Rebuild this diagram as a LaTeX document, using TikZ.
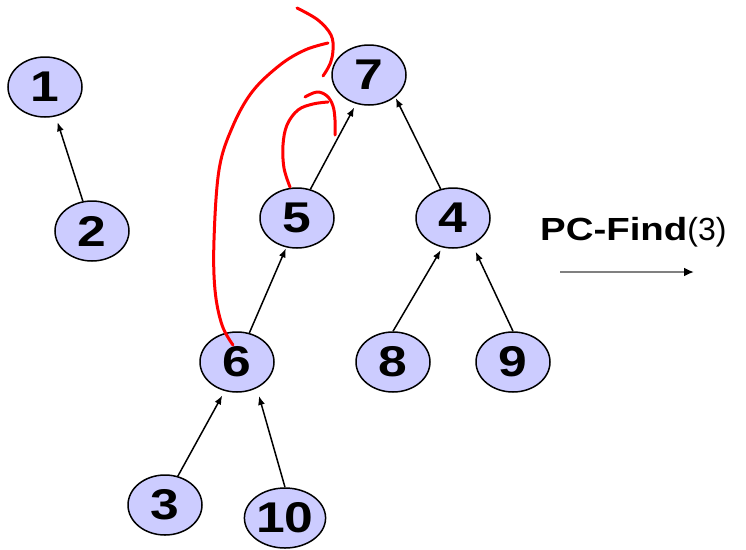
\documentclass[tikz,border=0pt]{standalone}
\usepackage{fontspec}
\usetikzlibrary{shapes.geometric,arrows.meta}
\newfontfamily\labelfont[FakeStretch=1.2]{Liberation Sans}
\newfontfamily\plainfont{Liberation Sans}
\definecolor{vertexfill}{RGB}{204,204,255}
\begin{document}
\begin{tikzpicture}[x=1pt,y=-1pt]
	\tikzset{
		vertex/.style={ellipse,draw=black,line width=1.5pt,fill=vertexfill,
			minimum width=74pt,minimum height=60pt,inner sep=0pt,
			font=\labelfont\bfseries\fontsize{43}{43}\selectfont},
		edge/.style={line width=1.5pt,-{Latex[length=9pt,width=7pt]}},
		pathmark/.style={red,line width=3pt,line cap=round,line join=round}
	}
	\useasboundingbox (0,0) rectangle (746,549);
	\node[vertex] (n1) at (45,87) {1};
	\node[vertex] (n2) at (92,231) {2};
	\node[vertex] (n7) at (369,75) {7};
	\node[vertex] (n5) at (297,218) {5};
	\node[vertex] (n4) at (453,218) {4};
	\node[vertex] (n6) at (237,362) {6};
	\node[vertex] (n8) at (393,362) {8};
	\node[vertex] (n9) at (513,362) {9};
	\node[vertex] (n3) at (165,505) {3};
	\node[vertex] (n10) at (285,518) {10};
	\draw[edge,shorten >=6pt] (n2.107) -- (n1.-70);
	\draw[edge,shorten >=5pt] (n3.66) -- (n6.-113);
	\draw[edge,shorten >=8pt] (n10.90) -- (n6.-53);
	\draw[edge,shorten >=1pt] (n6.67) -- (n5.-110);
	\draw[edge,shorten >=4pt] (n5.65) -- (n7.-114);
	\draw[edge,shorten >=1pt] (n4.113) -- (n7.-40);
	\draw[edge,shorten >=3pt] (n8.90) -- (n4.-110);
	\draw[edge,shorten >=8pt] (n9.90) -- (n4.-54);
	\draw[pathmark] plot[smooth,tension=0.6] coordinates {(233,345) (222,325) (215,290) (214,240) (219,170) (232,128) (252,92) (280,65) (305,50) (328,43)};
	\draw[pathmark] plot[smooth,tension=0.6] coordinates {(297,8) (318,20) (331,35) (333,50) (330,64) (323,76)};
	\draw[pathmark] plot[smooth,tension=0.6] coordinates {(290,187) (284,168) (283,145) (287,125) (298,110) (313,104) (328,102)};
	\draw[pathmark] plot[smooth,tension=0.6] coordinates {(305,97) (317,92) (327,96) (333,106) (335,120) (335,135)};
	\node[font=\fontsize{32}{32}\selectfont,inner sep=0pt,anchor=base west] (op) at (540,240) {{\labelfont\bfseries PC-Find}{\plainfont(3)}};
	\coordinate (opfrom) at (560,272);
	\coordinate (opto) at (694,272);
	\draw[gray,line width=2.5pt,-{Latex[length=10pt,width=9pt,color=black]}] (opfrom) -- (opto);
\end{tikzpicture}
\end{document}
